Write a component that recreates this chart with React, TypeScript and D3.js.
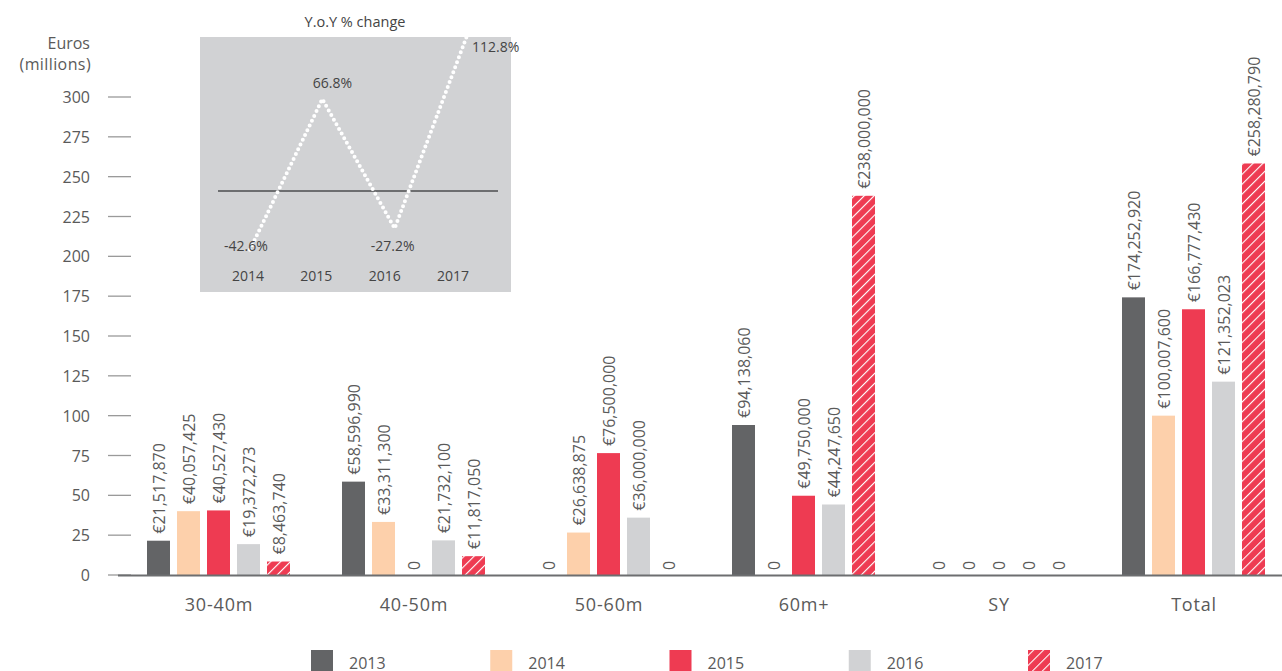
import React from "react";
import * as d3 from "d3";

const categories = ["30-40m", "40-50m", "50-60m", "60m+", "SY", "Total"];
const years = ["2013", "2014", "2015", "2016", "2017"];
const v2013 = [21517870, 58596990, 0, 94138060, 0, 174252920];
const v2014 = [40057425, 33311300, 26638875, 0, 0, 100007600];
const v2015 = [40527430, 0, 76500000, 49750000, 0, 166777430];
const v2016 = [19372273, 21732100, 36000000, 44247650, 0, 121352023];
const v2017 = [8463740, 11817050, 0, 238000000, 0, 258280790];
const seriesValues = [v2013, v2014, v2015, v2016, v2017];
const yTicks = [0, 25, 50, 75, 100, 125, 150, 175, 200, 225, 250, 275, 300];

const yoyYears = ["2014", "2015", "2016", "2017"];
const yoyValues = [-42.6, 66.8, -27.2, 112.8];
const yoyLabels = ["-42.6%", "66.8%", "-27.2%", "112.8%"];

const colors = ["#636466", "#fdd0ab", "#ee3b52", "#d1d2d4", "url(#hatch)"];
const RED = "#ee3b52";
const TEXT = "#5a5a5a";
const FONT = "'Open Sans', sans-serif";

export default function App() {
  const x0 = d3.scaleBand<string>().domain(categories).range([121.5, 1291.5]);
  const x1 = d3.scaleBand<string>().domain(years).range([-72, 71]).paddingInner(7 / 30).paddingOuter(0);
  const y = d3.scaleLinear().domain([0, 300]).range([575, 97]);
  const fmt = d3.format(",");

  const ix = d3.scalePoint<string>().domain(yoyYears).range([248, 453]);
  const lx = d3.scalePoint<string>().domain(yoyYears).range([250, 467]);
  const iy = d3.scaleLinear().domain([0, 100]).range([191, 53.3]);
  const line = d3
    .line<number>()
    .x((_, i) => lx(yoyYears[i]) as number)
    .y((d) => iy(d));

  const labelOffsets = [
    { dx: -4, dy: 1, anchor: "middle" },
    { dx: 10, dy: -11, anchor: "middle" },
    { dx: -2, dy: 23, anchor: "middle" },
    { dx: 5, dy: 16, anchor: "start" },
  ];

  const legendX = d3.scalePoint<string>().domain(years).range([311, 1028]);

  return (
    <svg
      width={1282}
      height={671}
      style={{ position: "absolute", left: 0, top: 0, fontFamily: FONT }}
    >
      <defs>
        <pattern id="hatch" width={7} height={7} patternUnits="userSpaceOnUse" patternTransform="rotate(45)">
          <rect width={7} height={7} fill={RED} />
          <line x1={0} y1={0} x2={0} y2={7} stroke="#fff" strokeWidth={2.2} />
        </pattern>
      </defs>

      {/* Y axis title */}
      <text x={90} y={49} textAnchor="end" fontSize={16} fill={TEXT}>Euros</text>
      <text x={91} y={70} textAnchor="end" fontSize={16} letterSpacing={0.4} fill={TEXT}>(millions)</text>

      {/* Y ticks */}
      {yTicks.map((t) => (
        <g key={t}>
          <text x={90} y={y(t) + 6} textAnchor="end" fontSize={16} fill={TEXT}>{t}</text>
          <line x1={108} x2={131} y1={y(t)} y2={y(t)} stroke="#9a9a9a" strokeWidth={1.3} />
        </g>
      ))}

      {/* Bars */}
      {categories.map((c, ci) => {
        const cx = (x0(c) as number) + x0.bandwidth() / 2;
        return (
          <g key={c}>
            {years.map((yr, si) => {
              const v = seriesValues[si][ci] / 1e6;
              const bx = cx + (x1(yr) as number);
              const bw = x1.bandwidth();
              const top = y(v);
              const mid = bx + bw / 2;
              const label = v === 0 ? "0" : "€" + fmt(seriesValues[si][ci]);
              const ly = v === 0 ? 570 : top - 7;
              return (
                <g key={yr}>
                  {v > 0 && <rect x={bx} y={top} width={bw} height={y(0) - top} fill={colors[si]} />}
                  <text
                    transform={`translate(${mid},${ly}) rotate(-90)`}
                    dominantBaseline="central"
                    fontSize={16}
                    fill={TEXT}
                  >
                    {label}
                  </text>
                </g>
              );
            })}
            <text x={cx} y={611} textAnchor="middle" fontSize={18} letterSpacing={0.8} fill={TEXT}>
              {c}
            </text>
          </g>
        );
      })}

      {/* Baseline */}
      <line x1={118} x2={1282} y1={575.5} y2={575.5} stroke="#6d6e70" strokeWidth={2} />

      {/* Inset */}
      <text x={355} y={27} textAnchor="middle" fontSize={14.5} fill="#444">Y.o.Y % change</text>
      <rect x={200} y={37} width={311} height={255} fill="#d1d2d4" />
      <line x1={218} x2={498} y1={iy(0)} y2={iy(0)} stroke="#6d6e70" strokeWidth={2} />
      <path
        d={line(yoyValues) as string}
        fill="none"
        stroke="#fff"
        strokeWidth={4}
        strokeLinecap="round"
        strokeDasharray="0 5.3"
      />
      {yoyValues.map((v, i) => (
        <text
          key={i}
          x={(lx(yoyYears[i]) as number) + labelOffsets[i].dx}
          y={iy(v) + labelOffsets[i].dy}
          textAnchor={labelOffsets[i].anchor}
          fontSize={14}
          fill="#444"
        >
          {yoyLabels[i]}
        </text>
      ))}
      {yoyYears.map((yr) => (
        <text key={yr} x={ix(yr)} y={281} textAnchor="middle" fontSize={14} fill="#444">{yr}</text>
      ))}

      {/* Legend */}
      {years.map((yr, i) => {
        const lxp = legendX(yr) as number;
        return (
          <g key={yr}>
            <rect x={lxp} y={650} width={22} height={22} fill={colors[i]} />
            <text x={lxp + 38} y={669} fontSize={16} fill={TEXT}>{yr}</text>
          </g>
        );
      })}
    </svg>
  );
}
